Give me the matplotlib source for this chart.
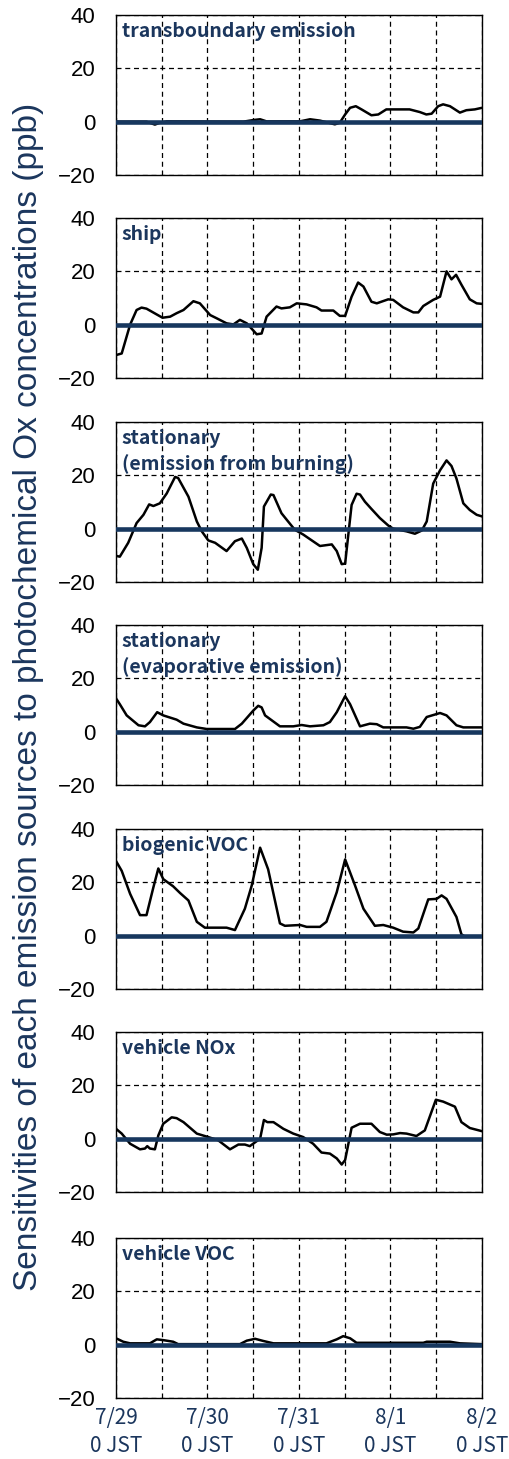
import numpy as np
import matplotlib
matplotlib.use("Agg")
import matplotlib.pyplot as plt

# ==========================================================
# DATA (hours since 7/29 0 JST, sensitivity in ppb)
# ==========================================================
titles = [
    "transboundary emission",
    "ship",
    "stationary\n(emission from burning)",
    "stationary\n(evaporative emission)",
    "biogenic VOC",
    "vehicle NOx",
    "vehicle VOC",
]

trans_h = [0, 8, 10.2, 11.5, 13.3, 33.4, 36, 37.8, 39.5, 48.2, 50.9, 53.5, 55.7, 57.4,
           58.7, 60.1, 61.4, 62.9, 64.4, 67, 68.8, 70.9, 77, 79.7, 81.4, 82.8, 84.5,
           85.8, 87.6, 90.2, 91.9, 94.1, 96]
trans_v = [0, 0, -1.1, -0.4, 0.1, 0, 0.6, 0.9, 0.1, 0.1, 0.9, 0.4, -0.4, -1.0,
           -0.4, 2.7, 5.2, 5.8, 4.6, 2.4, 2.7, 4.6, 4.6, 3.6, 2.7, 3.0, 5.8,
           6.5, 5.8, 3.4, 4.3, 4.6, 5.2]

ship_h = [0, 1.5, 3.7, 5.4, 6.7, 8, 12.2, 14.2, 15.9, 17.7, 20.3, 22, 24.7, 26.4, 29,
          30.8, 32.5, 34.3, 36.9, 38.2, 39.5, 42.1, 43.4, 45.6, 47.4, 50, 52.6, 53.9,
          57, 58.7, 60.1, 61.8, 63.5, 64.9, 67, 68.4, 71.4, 72.7, 75.3, 78, 79.3, 80.6,
          83.2, 85, 86.7, 88, 89.2, 90.6, 92.8, 94.6, 96]
ship_v = [-11.4, -10.8, 0, 5.5, 6.4, 6, 2.6, 3, 4.3, 5.5, 8.8, 8, 3.6, 2.4, 0.5,
          0.1, 1.8, 0.5, -3.6, -3.3, 3, 6.8, 6.1, 6.5, 8, 7.6, 6.5, 5.3,
          5.3, 3.3, 3.3, 10.5, 15.8, 14.3, 8.6, 8, 9.5, 9.3, 6.5, 4.6, 4.6, 7,
          9.3, 10.5, 20, 17, 18.7, 15, 9.5, 8, 7.8]

burn_h = [0, 1.0, 3.2, 5.4, 7.2, 8.7, 9.8, 11.5, 13.3, 15.5, 16.3, 19, 21.2, 22.5, 24.2,
          26, 29, 31.2, 33, 34.3, 36, 37.2, 38.2, 38.8, 40.6, 41.3, 43.4, 44.8, 46.9,
          49.1, 53.5, 56.6, 57.9, 59.2, 60.1, 61.8, 63.1, 64, 65.3, 67, 69.2, 71.4,
          72.7, 76.2, 78.4, 80.2, 81.5, 83.2, 85, 86.7, 88, 89.3, 91.1, 92.8, 94.6, 96]
burn_v = [-10.2, -10.5, -5.3, 2.1, 5.2, 9.1, 8.5, 9.5, 13.2, 19.4, 19, 12, 2.7, -1, -4.4,
          -5.3, -8.4, -4.7, -3.7, -7.2, -13.3, -15.4, -7.2, 8.3, 12.8, 12.6, 5.8, 3.3, -0.4,
          -2.2, -6.5, -5.9, -8.4, -13.3, -13.1, 8.9, 13.1, 12.8, 10.1, 7.4, 4, 1.2,
          0, -1, -1.9, -0.7, 2.7, 16.9, 21.9, 25.6, 23.5, 18.8, 9.5, 7, 5.2, 4.6]

evap_h = [0, 1, 2.8, 5.9, 7.6, 8.9, 10.8, 12.4, 15.9, 17.7, 21.2, 23.8, 31.2, 33, 36,
          37.3, 38.2, 39.1, 43, 46.5, 48.7, 50.9, 54.4, 56.1, 57.9, 60.1, 61.4, 64,
          66.6, 68.4, 70.1, 76.2, 78, 79.7, 81.5, 85, 86.7, 89.3, 91.1, 96]
evap_v = [12.5, 10.3, 6.1, 2.4, 2, 3.6, 7.3, 6.1, 4.5, 3, 1.6, 1, 1, 3, 7.9,
          9.7, 9.1, 6.1, 2, 2, 2.5, 2, 2.4, 3.6, 7.3, 13.3, 10.3, 2,
          3, 2.8, 1.6, 1.6, 1.1, 1.8, 5.5, 7, 6.1, 2.4, 1.6, 1.6]

bio_h = [0, 1.5, 3.7, 6.3, 8, 9.8, 11.1, 12.4, 15, 16.8, 19, 21.2, 23.3, 29, 31.2,
         33.8, 35.6, 37.8, 39.9, 43, 44.3, 48.3, 50, 53.5, 55.2, 57.9, 60.1, 62.7,
         64.9, 67.9, 70.1, 72.7, 75.3, 78, 79.3, 81.9, 84.1, 85.4, 86.7, 89.3, 90.6,
         91.5, 96]
bio_v = [28, 24.3, 15.7, 7.7, 7.7, 18.1, 25.2, 21.2, 18.5, 16, 13.2, 5.2, 3, 3, 2.1,
         10.1, 18.8, 33, 24.9, 4.6, 3.7, 4, 3.3, 3.3, 5.2, 16.3, 28.6, 18.8,
         10.1, 3.7, 4, 3, 1.5, 1.2, 2.7, 13.6, 13.8, 15.1, 13.8, 7, 0.5,
         -0.3, -0.3]

nox_h = [0, 1.5, 3.7, 6.3, 7.6, 8.2, 8.9, 10.2, 11.1, 12.4, 14.6, 15.9, 17.7, 21.2, 24.2,
         26.8, 29.9, 32.1, 33.8, 35.1, 37.8, 38.8, 39.7, 41.3, 43.9, 46.5, 49.1, 51.7,
         53.9, 56.1, 57.9, 59.2, 60.1, 61.8, 64, 67, 69.2, 71, 72.7, 74.5, 76.2, 78.8,
         81, 83.9, 85.8, 88.9, 90.6, 92.8, 96]
nox_v = [3.7, 1.9, -1.9, -4, -3.7, -2.8, -3.7, -4, 1.2, 5.6, 8, 7.7, 6.2, 1.9, 0.6,
         -0.6, -4, -2.2, -2.2, -2.8, 0, 7, 6.2, 6.2, 3.7, 1.9, 0.6, -1.9,
         -5.2, -5.6, -7.4, -9.7, -8, 4.1, 5.6, 5.6, 2.5, 1.5, 1.6, 2.1, 1.9, 1,
         3.1, 14.6, 13.9, 12, 6.2, 4, 2.8]

voc_h = [0, 1.9, 3.7, 8.9, 10.7, 12.4, 15, 16.3, 32.5, 34.3, 36.5, 38.6, 41.3, 55.2,
         57.9, 59.6, 61.4, 63.1, 80.6, 81.5, 87.6, 90.2, 96]
voc_v = [2.4, 1.1, 0.5, 0.5, 2, 1.7, 1.1, 0.2, 0.2, 1.5, 2.2, 1.4, 0.5, 0.5,
         2, 3.2, 2.4, 0.7, 0.7, 1.1, 1.1, 0.5, 0.2]

series = [(trans_h, trans_v), (ship_h, ship_v), (burn_h, burn_v), (evap_h, evap_v),
          (bio_h, bio_v), (nox_h, nox_v), (voc_h, voc_v)]

xtick_pos = [0, 24, 48, 72, 96]
xtick_labels = ["7/29\n0 JST", "7/30\n0 JST", "7/31\n0 JST", "8/1\n0 JST", "8/2\n0 JST"]
ytick_pos = [-20, 0, 20, 40]

# ==========================================================
# STYLE
# ==========================================================
NAVY = "#17375E"
TEXT_NAVY = "#1B365D"
W, H = 510, 1459
panel_tops = [15, 218, 422, 625, 829, 1032, 1238]
panel_h = 160
ax_left, ax_w = 116, 366

fig = plt.figure(figsize=(W / 100, H / 100), dpi=100)

for i, (hh, vv) in enumerate(series):
    top = panel_tops[i]
    ax = fig.add_axes([ax_left / W, 1 - (top + panel_h) / H, ax_w / W, panel_h / H])
    ax.plot(hh, vv, color="black", linewidth=1.8, zorder=3)
    ax.axhline(0, color=NAVY, linewidth=3.3, zorder=4)

    ax.set_xlim(0, 96)
    ax.set_ylim(-20, 40)
    ax.set_xticks(np.arange(0, 97, 12))
    ax.set_yticks(ytick_pos)
    ax.grid(True, color="black", linestyle=(0, (4, 3)), linewidth=0.9)
    ax.set_axisbelow(True)
    for s in ax.spines.values():
        s.set_linewidth(1.0)

    ax.tick_params(length=0, pad=15)
    ax.set_yticklabels([str(v).replace("-", "\u2212") for v in ytick_pos],
                       fontsize=16, family="Liberation Sans")
    ax.set_xticklabels([])

    ax.text(0.016, 0.955, titles[i], transform=ax.transAxes, ha="left", va="top",
            fontsize=14, fontweight="bold", color=TEXT_NAVY,
            family=["Noto Sans CJK JP", "DejaVu Sans"], linespacing=1.35)

    if i == len(series) - 1:
        for xp, lab in zip(xtick_pos, xtick_labels):
            ax.text(xp, -23.5, lab, ha="center", va="top", fontsize=15,
                    color=TEXT_NAVY, family=["Noto Sans CJK JP", "DejaVu Sans"],
                    linespacing=1.35, transform=ax.transData, clip_on=False)

fig.text(29 / W, 1 - 697 / H,
         "Sensitivities of each emission sources to photochemical Ox concentrations (ppb)",
         rotation=90, ha="center", va="center", fontsize=24, color=TEXT_NAVY,
         family="Liberation Sans")

fig.savefig("out.png", dpi=100)
